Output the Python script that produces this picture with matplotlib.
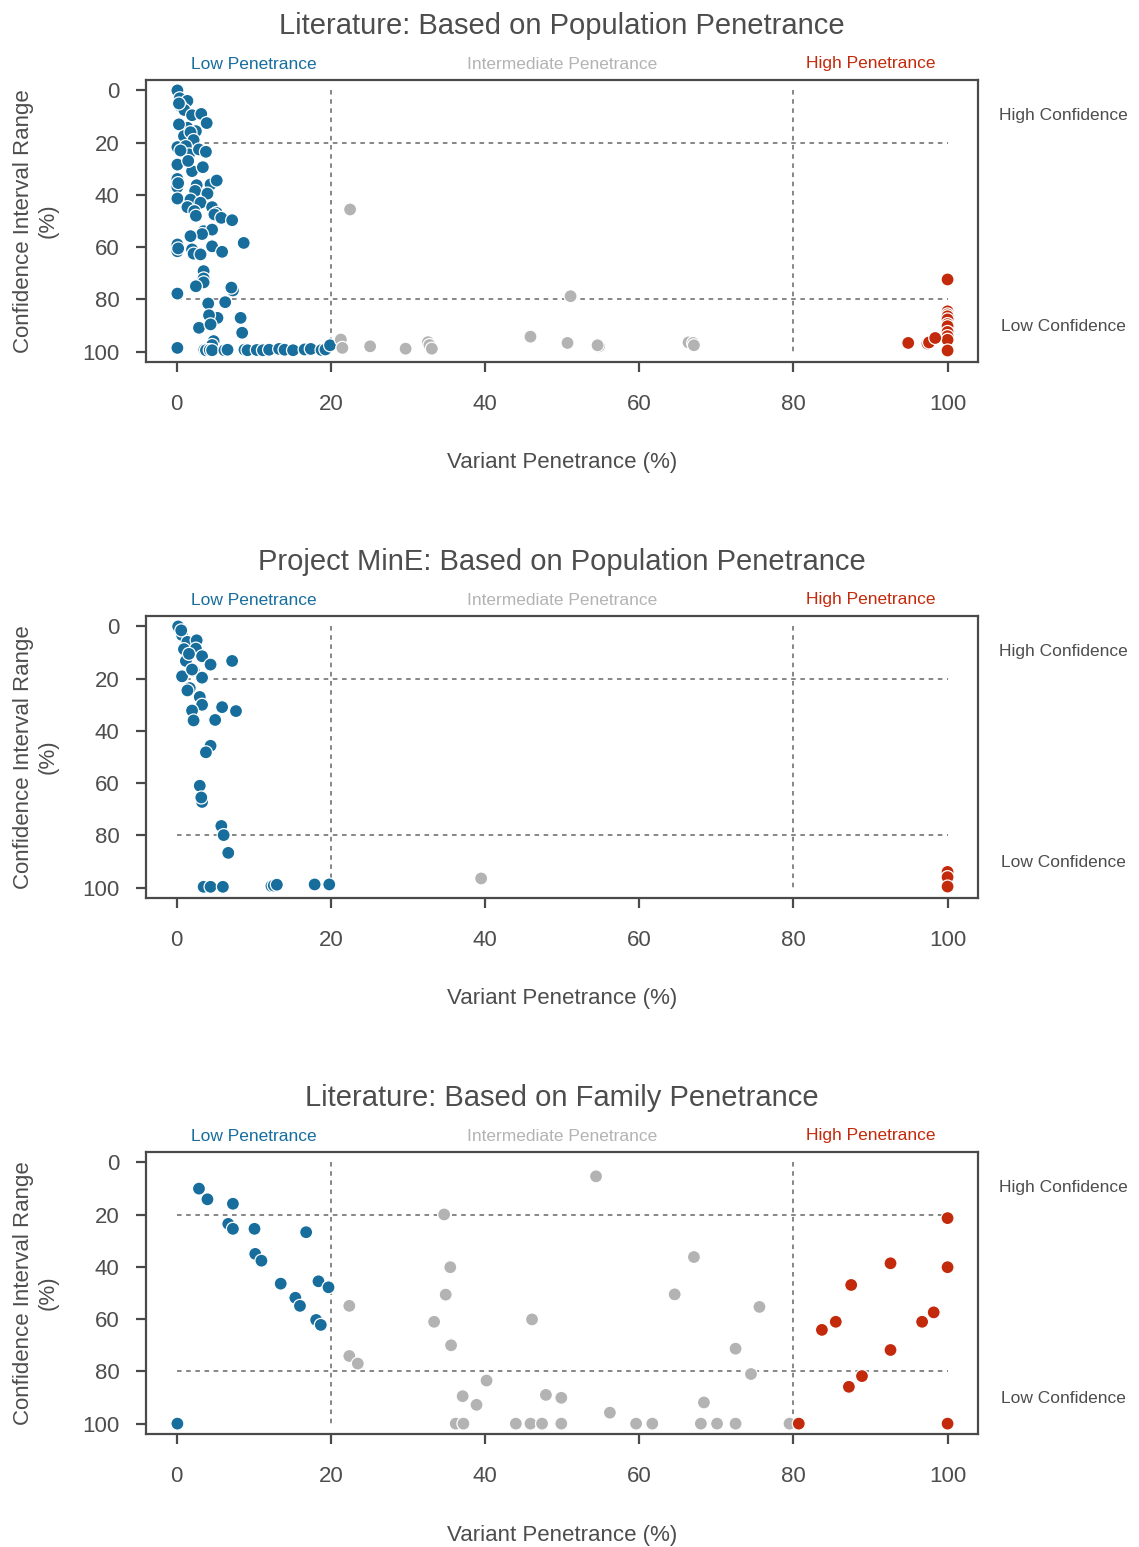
import numpy as np
import matplotlib
matplotlib.use('Agg')
import matplotlib.pyplot as plt

plt.rcParams['font.family'] = ['Liberation Sans', 'DejaVu Sans']

BLUE = '#176d9c'
GREY = '#b3b3b3'
RED = '#c32a0c'
INK = '#4d4d4d'

TITLES = ['Literature: Based on Population Penetrance',
          'Project MinE: Based on Population Penetrance',
          'Literature: Based on Family Penetrance']

# literature, population penetrance
lit_pop_pen = [0.1, 0.4, 1.4, 0.5, 1.0, 0.3, 2.0, 3.2, 3.9, 1.4, 0.3, 2.5, 0.95, 1.8, 2.2,
               0.1, 1.2, 1.6, 2.9, 3.8, 0.5, 0.1, 2.0, 3.4, 1.5, 0.1, 0.1, 0.2, 2.6, 2.4,
               4.4, 5.2, 4.0, 0.1, 1.8, 3.1, 1.4, 2.3, 2.5, 4.6, 5.2, 4.9, 5.8, 7.2, 3.5,
               4.6, 3.3, 1.8, 0.1, 0.1, 0.2, 2.0, 2.2, 3.1, 4.6, 5.9, 8.7, 3.5, 3.5, 3.5,
               2.5, 0.1, 7.3, 7.1, 4.1, 6.3, 5.3, 4.2, 8.3, 2.9, 4.4, 8.5, 0.1, 4.8, 4.6,
               3.6, 3.8, 4.3, 4.6, 6.2, 6.6, 8.8, 9.2, 10.4, 11.2, 12.0, 13.3, 14.0, 15.1,
               16.6, 17.4, 18.8, 19.3, 19.9,
               22.5, 51.1, 21.3, 21.5, 25.1, 29.7, 32.6, 32.8, 33.1, 45.9, 50.7, 54.8,
               54.6, 66.4, 67.0, 67.1,
               100, 100, 100, 100, 100, 100, 100, 100, 100, 100, 100, 94.9, 97.4, 97.6, 98.4]
lit_pop_ci = [0, 3, 4, 6, 7.5, 5, 9.5, 9, 12.5, 14.3, 13, 15.6, 17.5, 16, 19,
              21.7, 21.3, 24.5, 22.6, 23.5, 23, 28.4, 30.9, 29.4, 27, 33.9, 37, 35.5, 36.3, 38.5,
              36, 34.5, 39.5, 41.4, 41.8, 43, 44.7, 46.2, 48, 44.7, 46.9, 47.5, 48.8, 49.7, 53.9,
              53.3, 55, 55.8, 59, 61.6, 60.5, 60.9, 62.5, 62.8, 59.7, 61.8, 58.4, 69.2, 72, 73.5,
              75, 77.8, 76.6, 75.5, 81.6, 81.1, 87.1, 86.1, 87.1, 90.9, 89.6, 92.8, 98.6, 96, 97.5,
              99.3, 99.5, 99.4, 99.5, 99.5, 99.3, 99.3, 99.5, 99.4, 99.5, 99.3, 99.0, 99.3, 99.5,
              99.2, 99.0, 99.4, 99.2, 97.6,
              45.6, 78.8, 95.4, 98.6, 98.0, 98.9, 96.4, 97.5, 98.9, 94.3, 96.7, 98.0,
              97.6, 96.5, 96.7, 97.6,
              72.4, 84.6, 85.8, 86.5, 87.7, 89.5, 90.3, 92.5, 94.1, 95.5, 99.6, 96.7, 96.9, 96.5, 94.8]

# Project MinE, population penetrance
mine_pen = [0.2, 0.7, 1.4, 2.6, 0.95, 2.5, 3.3, 1.2, 4.4, 7.2, 2.2, 0.7, 3.3, 1.7, 3.0,
            3.3, 5.9, 7.7, 2.0, 2.2, 5.0, 4.4, 3.8, 3.0, 3.3, 3.2, 5.8, 6.1, 6.7, 3.5,
            4.4, 6.0, 12.3, 12.6, 13.0, 17.9, 19.8, 0.6, 1.6, 2.0, 1.4,
            39.5,
            100, 100, 100]
mine_ci = [0, 3.3, 5.9, 5.3, 8.7, 8.5, 11.4, 13.2, 14.6, 13.2, 16.8, 19.1, 19.6, 23.6, 27,
           30, 30.9, 32.4, 32.2, 36, 35.8, 45.7, 48.2, 61, 67.2, 65.5, 76.4, 79.9, 86.7, 99.7,
           99.7, 99.7, 99.4, 99.2, 98.9, 98.8, 98.8, 1.5, 10.5, 16.5, 24.5,
           96.5,
           94, 96, 99.6]

# literature, family penetrance
fam_pen = [2.9, 4.0, 7.3, 6.7, 7.3, 10.1, 16.8, 10.2, 11.0, 13.5, 18.4, 19.7, 15.4, 16.0,
           18.1, 18.7, 0.1,
           22.4, 22.4, 23.5, 34.7, 35.5, 34.9, 33.4, 35.6, 40.2, 37.1, 38.9, 36.2, 37.2,
           44.0, 45.9, 47.4, 49.9, 46.1, 54.4, 67.1, 64.6, 75.6, 72.5, 74.5, 47.9, 49.9,
           68.4, 56.2, 59.6, 61.7, 68.0, 70.1, 72.5, 79.5,
           80.7, 100, 100, 100, 92.6, 87.5, 85.5, 83.7, 98.2, 96.7, 92.6, 88.9, 87.2]
fam_ci = [10, 14.1, 15.8, 23.5, 25.4, 25.4, 26.7, 35, 37.6, 46.4, 45.5, 47.8, 51.8, 54.9,
          60.3, 62.2, 100,
          54.9, 74.1, 77, 19.9, 40.1, 50.6, 61, 70, 83.5, 89.5, 92.8, 100, 100,
          100, 100, 100, 100, 60.1, 5.3, 36.2, 50.5, 55.3, 71.3, 81, 89, 90.1,
          91.9, 95.8, 100, 100, 100, 100, 100, 100,
          100, 100, 21.3, 40.1, 38.6, 46.9, 61, 64.1, 57.4, 61, 71.8, 81.8, 85.9]

panels = [(lit_pop_pen, lit_pop_ci), (mine_pen, mine_ci), (fam_pen, fam_ci)]
bottoms = [0.766, 0.4195, 0.073]

fig = plt.figure(figsize=(11.39, 15.47), dpi=100)

for (pen, ci), title, b in zip(panels, TITLES, bottoms):
    pen = np.array(pen)
    ci = np.array(ci)
    ax = fig.add_axes([0.128, b, 0.731, 0.1823])

    # cut-offs for penetrance and confidence classes
    for v in (20, 80):
        ax.plot([v, v], [0, 100], ls=(0, (3, 3)), color='#666666', lw=1.1, zorder=1)
        ax.plot([0, 100], [v, v], ls=(0, (3, 3)), color='#666666', lw=1.1, zorder=1)

    cols = np.where(pen <= 20, BLUE, np.where(pen >= 80, RED, GREY))
    ax.scatter(pen, ci, s=88, c=cols, edgecolors='white', linewidths=0.9, zorder=3)

    ax.set_xlim(-4, 104)
    ax.set_ylim(104, -4)
    ax.set_xticks(range(0, 101, 20))
    ax.set_yticks(range(0, 101, 20))
    for s in ax.spines.values():
        s.set_color('#4a4a4a')
        s.set_linewidth(1.6)
    ax.tick_params(axis='both', labelsize=16, colors='#4a4a4a', labelcolor=INK,
                   length=7, width=1.6)
    ax.tick_params(axis='x', pad=16)
    ax.tick_params(axis='y', pad=12)

    ax.set_xlabel('Variant Penetrance (%)', fontsize=16, color=INK, labelpad=27)
    ax.set_ylabel('Confidence Interval Range\n(%)', fontsize=16, color=INK, labelpad=17,
                  linespacing=1.25)
    ax.set_title(title, fontsize=21, color=INK, pad=33)

    ax.text(10, -10, 'Low Penetrance', color=BLUE, fontsize=12.5, ha='center', va='center',
            clip_on=False)
    ax.text(50, -10, 'Intermediate Penetrance', color=GREY, fontsize=12.5, ha='center',
            va='center', clip_on=False)
    ax.text(90, -10.5, 'High Penetrance', color=RED, fontsize=12.5, ha='center', va='center',
            clip_on=False)
    ax.text(115, 9.5, 'High Confidence', color=INK, fontsize=12.5, ha='center', va='center',
            clip_on=False)
    ax.text(115, 90.5, 'Low Confidence', color=INK, fontsize=12.5, ha='center', va='center',
            clip_on=False)

fig.savefig('out.png', dpi=100)
